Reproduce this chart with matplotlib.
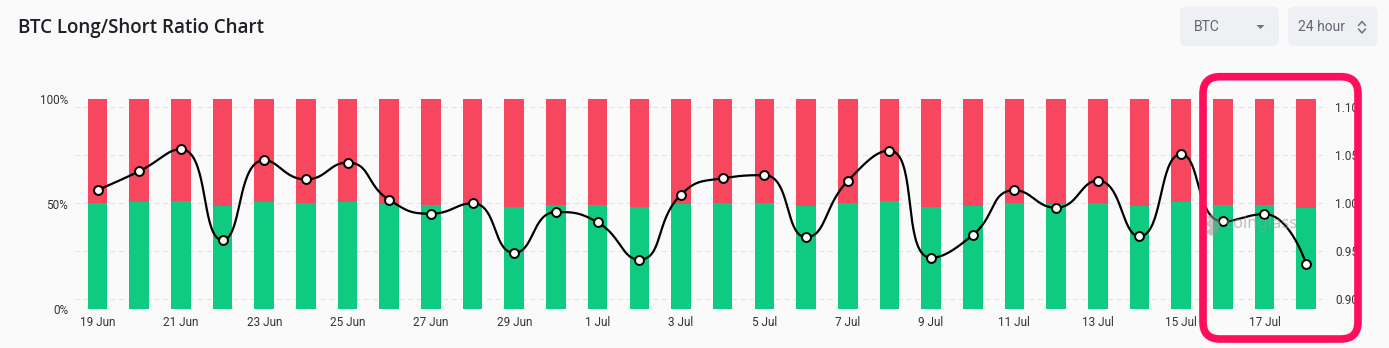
import numpy as np
import matplotlib
matplotlib.use("Agg")
import matplotlib.pyplot as plt
from matplotlib.patches import FancyBboxPatch, Polygon
from matplotlib.lines import Line2D

W, H = 1389, 348

dates = ["19 Jun", "20 Jun", "21 Jun", "22 Jun", "23 Jun", "24 Jun", "25 Jun", "26 Jun",
         "27 Jun", "28 Jun", "29 Jun", "30 Jun", "1 Jul", "2 Jul", "3 Jul", "4 Jul",
         "5 Jul", "6 Jul", "7 Jul", "8 Jul", "9 Jul", "10 Jul", "11 Jul", "12 Jul",
         "13 Jul", "14 Jul", "15 Jul", "16 Jul", "17 Jul", "18 Jul"]

# long / short account share in percent
long_pct = [50.34, 50.81, 51.36, 49.02, 51.09, 50.61, 51.03, 50.08, 49.72, 49.99,
            48.67, 49.76, 49.49, 48.49, 50.22, 50.63, 50.71, 49.10, 50.57, 51.33,
            48.54, 49.15, 50.33, 49.88, 50.57, 49.12, 51.24, 49.52, 49.71, 48.37]
short_pct = [round(100 - v, 2) for v in long_pct]

# long/short ratio
ratio = [1.0135, 1.0330, 1.0559, 0.9615, 1.0445, 1.0245, 1.0420, 1.0031, 0.9889, 0.9997,
         0.9482, 0.9906, 0.9799, 0.9413, 1.0087, 1.0257, 1.0289, 0.9646, 1.0229, 1.0545,
         0.9431, 0.9667, 1.0132, 0.9951, 1.0232, 0.9653, 1.0507, 0.9809, 0.9885, 0.9368]

pct_ticks = [0, 50, 100]
ratio_ticks = [0.90, 0.95, 1.00, 1.05, 1.10]

GREEN = "#0fca81"
RED = "#f6475e"
BG = "#fafafa"
TICK = "#333333"


def fig_xy(x, y):
    return x / W, 1 - y / H


def smooth_path(px, py, smooth=0.5):
    # bezier smoothing with control points clamped to each segment's box
    n = len(px)
    P = np.column_stack([px, py]).astype(float)
    cin = P.copy()
    cout = P.copy()
    for i in range(1, n - 1):
        prev, p, nxt = P[i - 1], P[i], P[i + 1]
        v = nxt - prev
        l0 = np.hypot(*(p - prev))
        l1 = np.hypot(*(nxt - p))
        r = l1 / (l0 + l1)
        co = p + v * smooth * r
        co = np.minimum(co, np.maximum(nxt, p))
        co = np.maximum(co, np.minimum(nxt, p))
        ci = p - (co - p) * l0 / l1
        ci = np.minimum(ci, np.maximum(prev, p))
        ci = np.maximum(ci, np.minimum(prev, p))
        co = p + (p - ci) * l1 / l0
        cin[i], cout[i] = ci, co
    t = np.linspace(0, 1, 40)[:, None]
    pts = []
    for i in range(n - 1):
        a, b, c, d = P[i], cout[i], cin[i + 1], P[i + 1]
        seg = ((1 - t) ** 3) * a + 3 * ((1 - t) ** 2) * t * b + 3 * (1 - t) * t ** 2 * c + t ** 3 * d
        pts.append(seg if i == 0 else seg[1:])
    return np.vstack(pts)


fig = plt.figure(figsize=(W / 100, H / 100), dpi=100, facecolor=BG)

x0, x1, ytop, ybot = 75, 1327, 99.3, 309
ax = fig.add_axes([x0 / W, 1 - ybot / H, (x1 - x0) / W, (ybot - ytop) / H])
ax.set_facecolor("none")
ax2 = ax.twinx()

x = np.arange(len(dates))
ax.bar(x, long_pct, width=0.47, color=GREEN, zorder=2)
ax.bar(x, short_pct, bottom=long_pct, width=0.47, color=RED, zorder=2)

ax.set_xlim(-0.54, len(dates) - 0.5)
ax.set_ylim(0, 100)
ax2.set_ylim(0.8899, 1.1077)

# dashed grid behind the bars, at the ratio ticks
for r in ratio_ticks:
    ax.add_line(Line2D([-0.54, len(dates)], [r, r], transform=ax2.transData,
                       color="#e4e4e4", lw=0.9, dashes=(4, 3), zorder=0.5))

ax.set_yticks(pct_ticks)
ax.set_yticklabels([f"{v}%" for v in pct_ticks])
ax.set_xticks(x[::2])
ax.set_xticklabels(dates[::2])
ax.tick_params(axis="both", length=0, labelsize=8.5, labelcolor=TICK)
ax.tick_params(axis="y", pad=5)
ax.tick_params(axis="x", pad=5)

ax2.set_yticks(ratio_ticks)
ax2.set_yticklabels([f"{v:.2f}" for v in ratio_ticks])
ax2.tick_params(axis="y", length=0, labelsize=8.5, labelcolor=TICK, pad=6)

for a in (ax, ax2):
    for s in a.spines.values():
        s.set_visible(False)

for lab in ax.get_xticklabels() + ax.get_yticklabels() + ax2.get_yticklabels():
    lab.set_fontfamily("Roboto")

# smoothed ratio line, computed in screen space
fig.canvas.draw()
disp = ax2.transData.transform(np.column_stack([x, ratio]))
curve = ax2.transData.inverted().transform(smooth_path(disp[:, 0], disp[:, 1]))
ax2.plot(curve[:, 0], curve[:, 1], color="black", lw=1.6, zorder=3, solid_capstyle="round")
ax2.plot(x, ratio, "o", ms=6.4, mfc="white", mec="black", mew=1.4, zorder=4)

# watermark
wx, wy = fig_xy(1261, 224)
fig.text(wx, wy, "coinglass", fontsize=12, fontweight="bold", color="#9a9a9a",
         alpha=0.6, ha="center", va="center", family="Noto Sans")
logo = [(1207, 216), (1213, 214), (1219, 219), (1220, 226), (1217, 233), (1211, 236),
        (1206, 232), (1210, 228), (1206, 224), (1209, 220)]
fig.add_artist(Polygon([fig_xy(*p) for p in logo], closed=True, transform=fig.transFigure,
                       facecolor="#9a9a9a", alpha=0.55, edgecolor="none"))

# title
tx, ty = fig_xy(18, 28)
fig.text(tx, ty, "BTC Long/Short Ratio Chart", fontsize=13.5, fontweight="semibold",
         color="#1e2026", ha="left", va="center", family="Open Sans")

# selectors at the top right
for bx, bw in [(1180, 99), (1288, 89.5)]:
    fig.add_artist(FancyBboxPatch((bx, H - 46), bw, 39.3,
                                  boxstyle="round,pad=0,rounding_size=6",
                                  transform=None, facecolor="#eef0f4", edgecolor="none"))
sx, sy = fig_xy(1194, 27)
fig.text(sx, sy, "BTC", fontsize=10, color="#5e6673", ha="left", va="center", family="Roboto")
sx, sy = fig_xy(1297.5, 27)
fig.text(sx, sy, "24 hour", fontsize=10, color="#5e6673", ha="left", va="center", family="Roboto")
fig.add_artist(Polygon([fig_xy(1256.5, 25), fig_xy(1264.5, 25), fig_xy(1260.5, 29)],
                       closed=True, transform=fig.transFigure, facecolor="#6b7280",
                       edgecolor="none"))
for ys in [(25.5, 21.5, 25.5), (29, 33, 29)]:
    pts = [fig_xy(1358.5, ys[0]), fig_xy(1362, ys[1]), fig_xy(1365.5, ys[2])]
    fig.add_artist(Line2D([p[0] for p in pts], [p[1] for p in pts], transform=fig.transFigure,
                          color="#6b7280", lw=1.1, solid_capstyle="round"))

# highlight frame around the last three days
fig.add_artist(FancyBboxPatch((1203, H - 339), 155, 262.3,
                              boxstyle="round,pad=0,rounding_size=17",
                              transform=None, facecolor="none", edgecolor="#ff0e5b",
                              lw=5.5, zorder=10))

fig.savefig("out.png", dpi=100, facecolor=BG)
